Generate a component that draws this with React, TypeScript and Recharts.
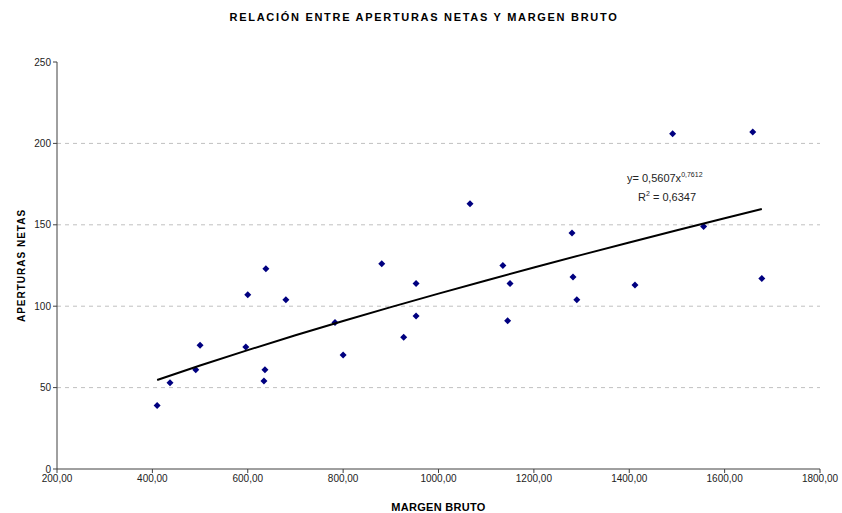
import React from 'react';
import { ScatterChart, Scatter, XAxis, YAxis, CartesianGrid, Label } from 'recharts';

const margenBruto = [410, 437, 491, 500, 596, 600, 638, 636, 634, 680, 783, 800, 881, 927, 953, 953, 1066, 1135, 1145, 1150, 1280, 1282, 1290, 1412, 1491, 1556, 1659, 1678];
const aperturasNetas = [39, 53, 61, 76, 75, 107, 123, 61, 54, 104, 90, 70, 126, 81, 114, 94, 163, 125, 91, 114, 145, 118, 104, 113, 206, 149, 207, 117];

const xTicks = [200, 400, 600, 800, 1000, 1200, 1400, 1600, 1800];
const yTicks = [0, 50, 100, 150, 200, 250];
const gridValues = [50, 100, 150, 200];

// Power trendline as displayed: y = 0,5607 x^0,7612
const trendCoef = 0.5607;
const trendExp = 0.7612;
const trendXs = [410, 500, 600, 700, 800, 900, 1000, 1100, 1200, 1300, 1400, 1500, 1600, 1678];

const points = margenBruto.map((x, i) => ({ x, y: aperturasNetas[i] }));
const trend = trendXs.map((x) => ({ x, y: trendCoef * Math.pow(x, trendExp) }));

const fmt = (v: number) => v.toFixed(2).replace('.', ',');

const Diamond = (props: any) => {
  const { cx, cy } = props;
  if (cx == null || cy == null) return null;
  const r = 3.5;
  return <path d={`M${cx},${cy - r}L${cx + r},${cy}L${cx},${cy + r}L${cx - r},${cy}Z`} fill="#000080" />;
};

export default function App() {
  const font = 'Arial, "Liberation Sans", sans-serif';
  return (
    <div style={{ position: 'absolute', left: 0, top: 0, width: 842, height: 513, background: '#fff', fontFamily: font }}>
      <div style={{ position: 'absolute', left: 0, top: 11, width: 848, textAlign: 'center', fontSize: 11, fontWeight: 'bold', letterSpacing: 1.7, color: '#000' }}>
        RELACIÓN ENTRE APERTURAS NETAS Y MARGEN BRUTO
      </div>
      <ScatterChart width={842} height={513} margin={{ top: 62, right: 22, bottom: 14, left: 27 }}>
        <CartesianGrid horizontal vertical={false} horizontalValues={gridValues} stroke="#c0c0c0" strokeDasharray="4 4" />
        <XAxis
          type="number"
          dataKey="x"
          domain={[200, 1800]}
          ticks={xTicks}
          tickFormatter={fmt}
          allowDataOverflow
          height={30}
          stroke="#404040"
          tickSize={4}
          tick={{ fontSize: 10, fill: '#222', fontFamily: font }}
        >
          <Label value="MARGEN BRUTO" position="bottom" offset={4} style={{ fontSize: 11, fontWeight: 'bold', fill: '#000', fontFamily: font, letterSpacing: 0.3 }} />
        </XAxis>
        <YAxis
          type="number"
          dataKey="y"
          domain={[0, 250]}
          ticks={yTicks}
          allowDataOverflow
          width={30}
          stroke="#404040"
          tickSize={4}
          tick={{ fontSize: 10, fill: '#222', fontFamily: font }}
        >
          <Label value="APERTURAS NETAS" angle={-90} position="left" offset={6} style={{ fontSize: 10, fontWeight: 'bold', fill: '#000', fontFamily: font, letterSpacing: 1, textAnchor: 'middle' }} />
        </YAxis>
        <Scatter data={points} shape={<Diamond />} isAnimationActive={false} />
        <Scatter data={trend} line={{ stroke: '#000', strokeWidth: 2 }} lineType="joint" shape={() => null} isAnimationActive={false} />
      </ScatterChart>
      <div style={{ position: 'absolute', left: 627, top: 167, fontSize: 11, color: '#222', lineHeight: '15px' }}>
        <div>y= 0,5607x<sup style={{ fontSize: 7 }}>0,7612</sup></div>
        <div style={{ paddingLeft: 11 }}>R<sup style={{ fontSize: 7 }}>2</sup> = 0,6347</div>
      </div>
    </div>
  );
}
